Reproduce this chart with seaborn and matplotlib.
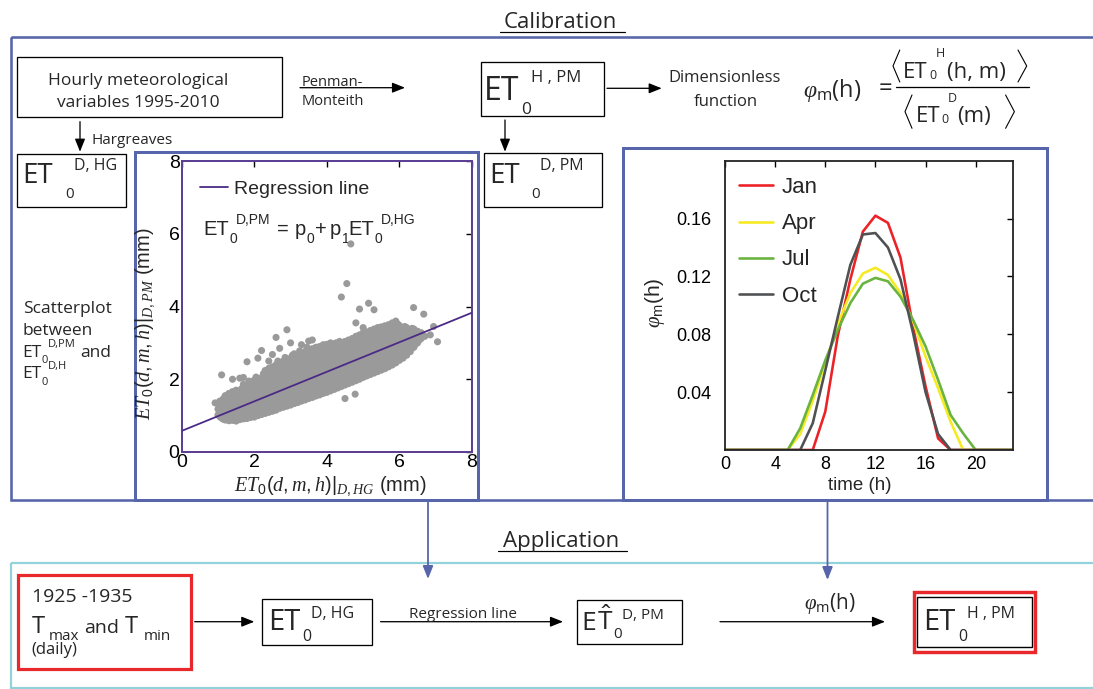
import matplotlib
matplotlib.use('Agg')
import matplotlib.pyplot as plt
import seaborn as sns
import pandas as pd
from matplotlib.patches import Rectangle

# ---------------- data ----------------
HOURS = list(range(24))
MONTHS = ['Jan', 'Apr', 'Jul', 'Oct']
PHI_JAN = [0, 0, 0, 0, 0, 0, 0, 0, 0.0265, 0.079, 0.118, 0.151, 0.162, 0.157,
           0.133, 0.085, 0.044, 0.008, 0, 0, 0, 0, 0, 0]
PHI_APR = [0, 0, 0, 0, 0, 0, 0.011, 0.034, 0.060, 0.087, 0.1085, 0.122, 0.126,
           0.121, 0.1085, 0.089, 0.0646, 0.0427, 0.0195, 0, 0, 0, 0, 0]
PHI_JUL = [0, 0, 0, 0, 0, 0, 0.015, 0.038, 0.062, 0.083, 0.1016, 0.115, 0.119,
           0.1166, 0.106, 0.090, 0.0716, 0.0485, 0.0242, 0.0115, 0, 0, 0, 0]
PHI_OCT = [0, 0, 0, 0, 0, 0, 0, 0.0185, 0.055, 0.092, 0.128, 0.149, 0.150,
           0.140, 0.118, 0.081, 0.040, 0.011, 0, 0, 0, 0, 0, 0]
PHI_XTICKS = [0, 4, 8, 12, 16, 20]
PHI_YTICKS = [0.04, 0.08, 0.12, 0.16]

# scatter: daily ET0 Hargreaves (x) vs Penman-Monteith (y), listed per x column
SCAT_COL_X = [
    0.92, 1.0, 1.05, 1.1, 1.15, 1.2, 1.25, 1.3, 1.35, 1.4, 1.45, 1.5, 1.55, 1.6,
    1.65, 1.7, 1.75, 1.8, 1.85, 1.9, 1.95, 2.0, 2.05, 2.1, 2.15, 2.2, 2.25, 2.3,
    2.35, 2.4, 2.45, 2.5, 2.55, 2.6, 2.65, 2.7, 2.75, 2.8, 2.85, 2.9, 2.95, 3.0,
    3.05, 3.1, 3.15, 3.2, 3.25, 3.3, 3.35, 3.4, 3.45, 3.5, 3.55, 3.6, 3.65, 3.7,
    3.75, 3.8, 3.85, 3.9, 3.95, 4.0, 4.05, 4.1, 4.15, 4.2, 4.25, 4.3, 4.35, 4.4,
    4.45, 4.5, 4.55, 4.6, 4.65, 4.66, 4.7, 4.75, 4.78, 4.8, 4.85, 4.9, 4.95, 5.0,
    5.05, 5.1, 5.15, 5.2, 5.25, 5.3, 5.35, 5.4, 5.45, 5.5, 5.55, 5.6, 5.65, 5.7,
    5.75, 5.8, 5.85, 5.9, 5.95, 6.0, 6.05, 6.1, 6.15, 6.2, 6.25, 6.3, 6.35, 6.39,
    6.4, 6.45, 6.5, 6.55, 6.6, 6.67, 6.7, 6.85, 6.94, 7.05]
SCAT_COL_Y = [
    [1.35],
    [1.02, 1.18, 1.33],
    [0.97, 1.1, 1.27, 1.4],
    [0.93, 1.06, 1.22, 2.12],
    [0.9, 1.01, 1.15, 1.31, 1.47],
    [0.88, 1.04, 1.19, 1.36, 1.55],
    [0.95, 1.12, 1.26, 1.42],
    [0.86, 0.99, 1.17, 1.32, 1.5, 1.61],
    [0.92, 1.08, 1.24, 1.41, 1.57],
    [0.87, 1.03, 1.15, 1.3, 1.46, 1.66, 2.0],
    [0.95, 1.11, 1.27, 1.4, 1.55],
    [0.85, 0.99, 1.2, 1.36, 1.52, 1.7],
    [0.93, 1.07, 1.25, 1.44, 1.6],
    [0.89, 1.02, 1.16, 1.33, 1.49, 1.65, 2.03],
    [0.96, 1.12, 1.28, 1.42, 1.58, 1.74],
    [0.91, 1.05, 1.21, 1.37, 1.53, 1.69, 1.86, 2.05],
    [0.98, 1.14, 1.3, 1.47, 1.63, 1.8],
    [0.92, 1.08, 1.24, 1.39, 1.56, 1.72, 2.48],
    [1.0, 1.17, 1.33, 1.5, 1.67, 1.83, 1.95],
    [0.95, 1.11, 1.27, 1.43, 1.6, 1.77, 1.9],
    [1.02, 1.19, 1.36, 1.53, 1.69, 1.86],
    [0.96, 1.13, 1.29, 1.46, 1.63, 1.8, 1.98],
    [1.05, 1.22, 1.38, 1.55, 1.72, 1.9, 2.06],
    [1.0, 1.16, 1.32, 1.49, 1.66, 1.83, 2.0, 2.58],
    [1.08, 1.25, 1.41, 1.58, 1.75, 1.93],
    [1.03, 1.19, 1.35, 1.52, 1.69, 1.86, 2.04, 2.79],
    [1.1, 1.27, 1.44, 1.61, 1.78, 1.96, 2.15],
    [1.06, 1.23, 1.39, 1.56, 1.73, 1.9, 2.08, 2.24],
    [1.13, 1.3, 1.47, 1.64, 1.82, 2.0, 2.18],
    [1.09, 1.26, 1.42, 1.59, 1.76, 1.94, 2.12, 2.3, 2.5],
    [1.16, 1.33, 1.5, 1.68, 1.86, 2.04, 2.22],
    [1.12, 1.29, 1.46, 1.63, 1.8, 1.98, 2.16, 2.34, 2.68],
    [1.19, 1.37, 1.54, 1.72, 1.9, 2.08, 2.27],
    [1.15, 1.32, 1.5, 1.67, 1.85, 2.03, 2.21, 2.4, 3.15],
    [1.22, 1.4, 1.58, 1.76, 1.94, 2.12, 2.31, 2.5],
    [1.2, 1.36, 1.53, 1.71, 1.89, 2.07, 2.26, 2.45, 2.85],
    [1.26, 1.44, 1.62, 1.8, 1.98, 2.17, 2.36],
    [1.23, 1.4, 1.57, 1.75, 1.93, 2.11, 2.3, 2.5],
    [1.3, 1.48, 1.66, 1.84, 2.02, 2.21, 2.4, 2.6],
    [1.26, 1.43, 1.61, 1.79, 1.97, 2.15, 2.34, 2.52, 3.36],
    [1.33, 1.51, 1.7, 1.88, 2.06, 2.25, 2.44],
    [1.29, 1.47, 1.65, 1.83, 2.01, 2.2, 2.39, 2.58, 3.0],
    [1.37, 1.55, 1.74, 1.92, 2.1, 2.29, 2.48, 2.66],
    [1.33, 1.51, 1.69, 1.87, 2.05, 2.24, 2.43, 2.7],
    [1.4, 1.59, 1.78, 1.96, 2.15, 2.34, 2.53],
    [1.36, 1.55, 1.73, 1.91, 2.1, 2.29, 2.48, 2.66],
    [1.44, 1.63, 1.82, 2.0, 2.19, 2.38, 2.57, 2.78],
    [1.4, 1.58, 1.77, 1.95, 2.14, 2.33, 2.52, 2.72, 2.95],
    [1.47, 1.66, 1.85, 2.04, 2.23, 2.42, 2.62],
    [1.43, 1.62, 1.81, 2.0, 2.19, 2.38, 2.57, 2.76],
    [1.51, 1.7, 1.89, 2.08, 2.27, 2.47, 2.67, 2.88],
    [1.47, 1.66, 1.85, 2.04, 2.23, 2.42, 2.61, 2.8, 3.05],
    [1.54, 1.73, 1.93, 2.12, 2.31, 2.51, 2.71],
    [1.5, 1.69, 1.88, 2.07, 2.27, 2.46, 2.65, 2.84, 3.08],
    [1.58, 1.77, 1.97, 2.16, 2.36, 2.56, 2.76],
    [1.54, 1.73, 1.92, 2.12, 2.31, 2.51, 2.7, 2.88],
    [1.61, 1.81, 2.01, 2.2, 2.4, 2.6, 2.8],
    [1.57, 1.77, 1.96, 2.16, 2.35, 2.55, 2.74, 2.9],
    [1.65, 1.85, 2.05, 2.25, 2.45, 2.65, 2.85],
    [1.61, 1.8, 2.0, 2.2, 2.4, 2.6, 2.79, 2.95],
    [1.68, 1.88, 2.08, 2.29, 2.49, 2.69, 2.88],
    [1.64, 1.84, 2.04, 2.24, 2.44, 2.64, 2.84, 2.96],
    [1.72, 1.92, 2.12, 2.33, 2.53, 2.73, 2.92],
    [1.68, 1.88, 2.08, 2.28, 2.48, 2.68, 2.88, 3.0],
    [1.76, 1.96, 2.17, 2.37, 2.57, 2.78, 2.97],
    [1.72, 1.92, 2.12, 2.32, 2.53, 2.73, 2.93],
    [1.8, 2.0, 2.21, 2.41, 2.62, 2.82, 3.0],
    [1.76, 1.96, 2.16, 2.37, 2.57, 2.77, 2.96],
    [1.84, 2.05, 2.25, 2.46, 2.66, 2.86, 3.04],
    [1.8, 2.0, 2.21, 2.41, 2.61, 2.82, 3.0, 4.26],
    [1.88, 2.09, 2.3, 2.5, 2.71, 2.91],
    [1.47, 1.84, 2.04, 2.25, 2.45, 2.66, 2.86, 3.04],
    [1.92, 2.13, 2.34, 2.55, 2.76, 2.96, 4.63],
    [1.88, 2.08, 2.29, 2.5, 2.7, 2.91, 3.08],
    [1.96, 2.17, 2.38, 2.59, 2.8, 3.0],
    [5.72],
    [1.92, 2.13, 2.34, 2.55, 2.75, 2.96, 3.12],
    [2.0, 2.21, 2.42, 2.63, 2.84, 3.05],
    [1.59],
    [1.96, 2.17, 2.38, 2.59, 2.8, 3.01, 3.18, 3.55],
    [2.04, 2.25, 2.46, 2.67, 2.88, 3.09],
    [2.0, 2.21, 2.42, 2.63, 2.84, 3.05, 3.22, 3.93],
    [2.08, 2.29, 2.5, 2.72, 2.93, 3.14],
    [2.05, 2.25, 2.46, 2.67, 2.88, 3.09, 3.28, 3.42],
    [2.12, 2.33, 2.55, 2.76, 2.97, 3.18],
    [2.09, 2.29, 2.5, 2.71, 2.92, 3.13, 3.3],
    [2.16, 2.37, 2.59, 2.8, 3.01, 3.22, 4.09],
    [2.13, 2.33, 2.54, 2.75, 2.96, 3.17, 3.34],
    [2.2, 2.41, 2.63, 2.84, 3.05, 3.26],
    [2.17, 2.37, 2.58, 2.79, 3.0, 3.21, 3.38, 3.91],
    [2.24, 2.45, 2.67, 2.88, 3.09, 3.3],
    [2.21, 2.41, 2.62, 2.83, 3.04, 3.25, 3.42],
    [2.28, 2.49, 2.71, 2.92, 3.13, 3.34],
    [2.25, 2.45, 2.66, 2.87, 3.08, 3.29, 3.44],
    [2.32, 2.53, 2.75, 2.96, 3.17, 3.38],
    [2.29, 2.49, 2.7, 2.91, 3.12, 3.33, 3.47],
    [2.37, 2.58, 2.8, 3.01, 3.22, 3.42],
    [2.34, 2.54, 2.75, 2.96, 3.17, 3.37, 3.5],
    [2.42, 2.63, 2.85, 3.06, 3.27, 3.46],
    [2.39, 2.6, 2.81, 3.02, 3.22, 3.42, 3.55],
    [2.47, 2.68, 2.9, 3.11, 3.32, 3.5],
    [2.45, 2.66, 2.87, 3.08, 3.28, 3.48, 3.6],
    [2.53, 2.74, 2.95, 3.16, 3.37, 3.52],
    [2.52, 2.72, 2.93, 3.14, 3.34, 3.48],
    [2.6, 2.8, 3.01, 3.22, 3.41],
    [2.58, 2.78, 2.99, 3.2, 3.4],
    [2.67, 2.87, 3.08, 3.29, 3.45],
    [2.66, 2.86, 3.06, 3.26, 3.42],
    [2.75, 2.95, 3.15, 3.35],
    [2.76, 2.95, 3.14, 3.33],
    [2.86, 3.05, 3.24, 3.4],
    [3.97],
    [2.88, 3.06, 3.24, 3.38],
    [2.97, 3.15, 3.32],
    [3.0, 3.17, 3.32],
    [3.08, 3.25],
    [3.12, 3.28],
    [3.79],
    [3.18],
    [3.22],
    [3.45],
    [3.03],
]
REG_X = [0, 8]
REG_Y = [0.58, 3.83]
SCAT_TICKS = [0, 2, 4, 6, 8]

SCAT_X, SCAT_Y = [], []
for cx, cys in zip(SCAT_COL_X, SCAT_COL_Y):
    for cy in cys:
        SCAT_X.append(cx)
        SCAT_Y.append(cy)

# ---------------- style ----------------
sns.set_style('white')
plt.rcParams['font.family'] = ['Liberation Sans', 'DejaVu Sans']
plt.rcParams['mathtext.fontset'] = 'custom'
plt.rcParams['mathtext.rm'] = 'Liberation Sans'
plt.rcParams['mathtext.it'] = 'Liberation Serif:italic'
plt.rcParams['mathtext.sf'] = 'Open Sans'
plt.rcParams['mathtext.bf'] = 'Liberation Sans:bold'

DIAG = ['Open Sans', 'DejaVu Sans']
PLOTF = ['Liberation Sans', 'DejaVu Sans']
BLUE = '#5766aa'
CYAN = '#93d2db'
RED = '#e8282b'
PURPLE = '#4b2a86'
PAL = {'Jan': '#ec2227', 'Apr': '#f6ea22', 'Jul': '#69b33f', 'Oct': '#505153'}

W, H = 1093, 689
fig = plt.figure(figsize=(W / 100, H / 100), dpi=100)
ax0 = fig.add_axes([0, 0, 1, 1])
ax0.set_xlim(0, W)
ax0.set_ylim(H, 0)
ax0.axis('off')


def px(v):
    return v * 0.72


def rect(x0, y0, x1, y1, color='black', lw=1.3, z=2):
    ax0.add_patch(Rectangle((x0, y0), x1 - x0, y1 - y0, fill=False,
                            edgecolor=color, linewidth=px(lw), zorder=z))


def txt(x, y, s, size, family=DIAG, ha='left', va='baseline', **kw):
    ax0.text(x, y, s, fontsize=size, family=family, ha=ha, va=va, **kw)


def arrow(x1, y1, x2, y2, color='black', lw=1.3):
    ax0.annotate('', xy=(x2, y2), xytext=(x1, y1),
                 arrowprops=dict(arrowstyle='-|>,head_length=0.55,head_width=0.22',
                                 color=color, lw=px(lw), shrinkA=0, shrinkB=0,
                                 mutation_scale=14))


def et(x, base, big, sx, sbase, ss, ux, ubase, sup, us, family=DIAG):
    txt(x, base, 'ET', big, family=family)
    txt(sx, sbase, '0', ss, family=family)
    txt(ux, ubase, sup, us, family=family)


# ---------------- frames ----------------
rect(10.5, 37, 1110, 500, BLUE, 2.6)
rect(10.5, 563.3, 1110, 687.5, CYAN, 2.2)
rect(134.5, 152, 478, 500, BLUE, 3)
rect(623, 148, 1047, 500, BLUE, 3)

# headings
txt(560.5, 28.3, 'Calibration', 16, ha='center')
ax0.plot([500, 625], [32, 32], color='black', lw=px(1.2))
txt(561, 546.7, 'Application', 16, ha='center')
ax0.plot([498, 627], [551, 551], color='black', lw=px(1.2))

# top row
rect(16.8, 56.7, 282.4, 117.3)
txt(138, 85, 'Hourly meteorological', 12.5, ha='center')
txt(138, 107.3, 'variables 1995-2010', 12.5, ha='center')
arrow(300, 87.7, 405, 87.7)
txt(301.6, 85.7, 'Penman-', 10.5)
txt(301.6, 105, 'Monteith', 10.5)
arrow(80, 121.7, 80, 151.7)
txt(91.2, 144, 'Hargreaves', 11)

rect(480.5, 61.7, 603.5, 116)
et(484, 100, 23, 521, 114.5, 12.5, 531, 81.7, 'H , PM', 12)
arrow(505, 120, 505, 151.7)
arrow(607, 88.3, 661.7, 88.3)
txt(725, 81.7, 'Dimensionless', 12, ha='center')
txt(726, 106, 'function', 12, ha='center')

# formula  phi_m(h) = <ET0^H (h,m)> / <ET0^D (m)>
txt(802.8, 97, r'$\varphi_{\mathsf{m}}$(h)', 17)
txt(885.6, 95, '=', 17, ha='center')
ax0.plot([896, 1028.5], [87.3, 87.3], color='black', lw=px(1.3))
for (xa, xb, yt, yb) in [(899.8, 893, 50, 82), (1018, 1026.7, 50, 82),
                         (912, 905, 95, 128.3), (1005.6, 1014.4, 95, 128.3)]:
    ax0.plot([xa, xb, xa], [yt, (yt + yb) / 2, yb], color='black', lw=px(1.1))
txt(903.3, 78.3, 'ET', 16)
txt(929, 79, '0', 9)
txt(936, 57, 'H', 9)
txt(947, 78.3, '(h, m)', 16)
txt(915.7, 121.7, 'ET', 16)
txt(941, 123, '0', 9)
txt(947.5, 102.5, 'D', 9)
txt(957, 121.7, '(m)', 16)

# second row
rect(17.3, 154, 126, 206.7)
et(22.7, 182.7, 20, 65, 198.5, 11, 74, 170, 'D, HG', 11.5)
rect(484, 153, 601.7, 207)
et(489.4, 182.7, 20, 531.7, 198.5, 11, 540.5, 170, 'D, PM', 11.5)

txt(22.7, 313, 'Scatterplot', 12.5)
txt(22.7, 335, 'between', 12.5)
txt(22.7, 356.7, 'ET', 12.5)
txt(42, 363, '0', 8)
txt(48, 347, 'D,PM', 8)
txt(80, 356.7, 'and', 12.5)
txt(22.7, 378.3, 'ET', 12.5)
txt(42, 384.6, '0', 8)
txt(48, 368.6, 'D,H', 8)

# blue connectors
arrow(428, 500, 428, 579, BLUE, 1.8)
arrow(827.5, 500, 827.5, 580, BLUE, 1.8)

# application row
rect(18.2, 575, 191.2, 669.3, RED, 3.2)
txt(31.6, 601.7, '1925 -1935', 14)
txt(31.6, 633, 'T', 17)
txt(49, 640, 'max', 11)
txt(84, 633, 'and', 14)
txt(124.5, 633, 'T', 17)
txt(143.8, 640, 'min', 11)
txt(31.6, 654, '(daily)', 12)
arrow(194.7, 621.7, 254.3, 621.7)

rect(262.4, 599, 371.8, 645)
et(268.4, 630, 21, 302, 641, 11.5, 311, 618, 'D, HG', 11.5)
arrow(380.6, 621.7, 563, 621.7)
txt(408.6, 618, 'Regression line', 11)

rect(577, 600, 681.8, 644)
txt(581.5, 630, 'E', 19)
txt(597, 630, r'$\mathsf{\hat{T}}$', 19)
txt(613, 638, '0', 11)
txt(622, 619, 'D, PM', 11)
arrow(720, 621.7, 885, 621.7)
txt(804.5, 609, r'$\varphi_{\mathsf{m}}$(h)', 15)

rect(913.5, 592.2, 1035.2, 652.2, RED, 3.4)
rect(916.7, 596.7, 1032, 646.7, 'black', 1.4)
et(923.5, 630, 21, 958, 641, 11.5, 967, 618, 'H , PM', 11.5)

# ---------------- scatter plot ----------------
def fig_rect(l, t, r, b):
    return [l / W, 1 - b / H, (r - l) / W, (b - t) / H]


ax1 = fig.add_axes(fig_rect(181.7, 161, 472, 452))
ax1.set_facecolor('none')
sns.scatterplot(x=SCAT_X, y=SCAT_Y, ax=ax1, color='#9a9a9a', s=26,
                edgecolor='none', linewidth=0, legend=False, zorder=2)
sns.lineplot(x=REG_X, y=REG_Y, ax=ax1, color=PURPLE, lw=px(1.8),
             label='Regression line', zorder=3)
ax1.set_xlim(0, 8)
ax1.set_ylim(0, 8)
ax1.set_xticks(SCAT_TICKS)
ax1.set_yticks(SCAT_TICKS)
for sp in ax1.spines.values():
    sp.set_visible(True)
    sp.set_color('#5e3f96')
    sp.set_linewidth(px(2))
ax1.tick_params(direction='in', top=True, right=True, length=4, width=1,
                labelsize=14, pad=1.5, colors='black')
ax1.set_xlabel(r'$ET_0(d,m,h)|_{D,HG}$ (mm)', fontsize=14.5)
ax1.set_ylabel(r'$ET_0(d,m,h)|_{D,PM}$ (mm)', fontsize=14.5)
ax1.xaxis.set_label_coords(0.511, -0.118)
ax1.yaxis.set_label_coords(-0.125, 0.44)
ax1.xaxis.label.set_va('center')
ax1.yaxis.label.set_va('center')
ax1.legend(loc='upper left', bbox_to_anchor=(0.063, 0.933), frameon=False,
           fontsize=14, handlelength=1.45, handletextpad=0.3, borderpad=0,
           borderaxespad=0)

# equation inside the scatter panel
et(203.3, 235, 14.5, 229.5, 243, 10, 236, 224, 'D,PM', 10, family=PLOTF)
txt(283, 235, '=', 14.5, family=PLOTF, ha='center')
txt(295, 235, 'p', 14.5, family=PLOTF)
txt(306.7, 243, '0', 10, family=PLOTF)
txt(315, 235, '+', 14.5, family=PLOTF)
txt(330, 235, 'p', 14.5, family=PLOTF)
txt(341.7, 243, '1', 10, family=PLOTF)
et(348.5, 235, 14.5, 374.5, 243, 10, 381, 224, 'D,HG', 10, family=PLOTF)

# ---------------- phi_m(h) plot ----------------
df = pd.DataFrame({
    'hour': HOURS * 4,
    'phi': PHI_JAN + PHI_APR + PHI_JUL + PHI_OCT,
    'month': [m for m in MONTHS for _ in HOURS],
})
ax2 = fig.add_axes(fig_rect(725, 160.7, 1013.3, 450))
ax2.set_facecolor('none')
sns.lineplot(data=df, x='hour', y='phi', hue='month', hue_order=MONTHS,
             palette=PAL, ax=ax2, lw=px(2.6))
ax2.set_xlim(0, 23)
ax2.set_ylim(0, 0.2)
ax2.set_xticks(PHI_XTICKS)
ax2.set_yticks(PHI_YTICKS)
for sp in ax2.spines.values():
    sp.set_visible(True)
    sp.set_color('#222222')
    sp.set_linewidth(px(1.8))
ax2.tick_params(direction='in', top=True, right=True, length=4, width=1,
                labelsize=13, colors='black')
ax2.tick_params(axis='y', pad=10)
ax2.tick_params(axis='x', pad=4)
ax2.set_xlabel('time (h)', fontsize=13.5)
ax2.set_ylabel(r'$\varphi_{\mathrm{m}}$(h)', fontsize=15)
ax2.xaxis.set_label_coords(0.468, -0.121)
ax2.yaxis.set_label_coords(-0.243, 0.508)
ax2.xaxis.label.set_va('center')
ax2.yaxis.label.set_va('center')
leg = ax2.legend(loc='upper left', bbox_to_anchor=(0.0486, 0.943), frameon=False,
                 fontsize=16, handlelength=1.53, handletextpad=0.39,
                 labelspacing=0.68, borderpad=0, borderaxespad=0, title=None)
for ln in leg.get_lines():
    ln.set_linewidth(px(2.6))

fig.savefig('out.png', dpi=100)
